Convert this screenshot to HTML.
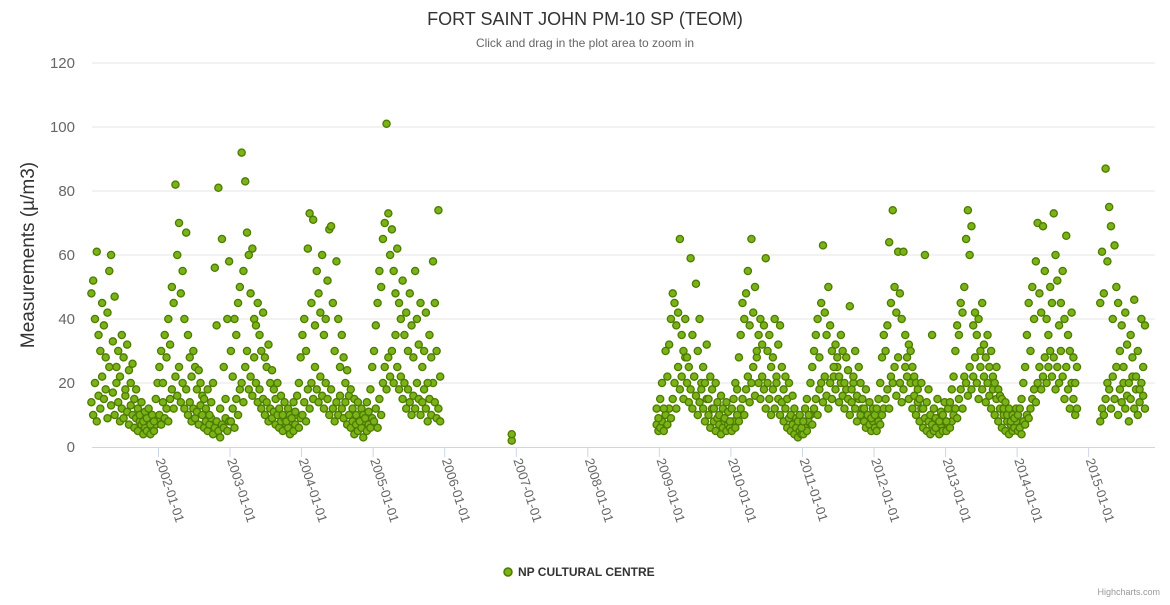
<!DOCTYPE html>
<html><head><meta charset="utf-8"><style>
body{margin:0;background:#fff;font-family:"Liberation Sans",sans-serif}
</style></head><body>
<svg id="chart" width="1170" height="600" xmlns="http://www.w3.org/2000/svg" font-family="Liberation Sans, sans-serif">
<rect width="1170" height="600" fill="#fff"/>
<text x="585" y="25" text-anchor="middle" font-size="18" fill="#333">FORT SAINT JOHN PM-10 SP (TEOM)</text>
<text x="585" y="47" text-anchor="middle" font-size="12" fill="#666">Click and drag in the plot area to zoom in</text>
<text transform="translate(34,255) rotate(-90)" text-anchor="middle" font-size="19" fill="#333">Measurements (µ/m3)</text>
<g id="grid"></g><g id="xaxis"></g><g id="pts"></g>
<g>
<circle cx="508" cy="572" r="4" fill="#7ab317" stroke="#4d7a00" stroke-width="1.5"/>
<text x="518" y="576" font-size="12" font-weight="bold" fill="#333">NP CULTURAL CENTRE</text>
</g>
<text x="1160" y="595" text-anchor="end" font-size="9" fill="#999">Highcharts.com</text>
</svg>
<script>
const yTicks=[0,20,40,60,80,100,120];
const xTickYears=[2002,2003,2004,2005,2006,2007,2008,2009,2010,2011,2012,2013,2014,2015];
const years=[2001,2002,2003,2004,2005,2006,2008,2009,2010,2011,2012,2013,2014,2015];
const N=null;
const low2001=[N,N,14,10,20,8,16,12,22,15,18,9,25,13,17,10,20,14,8,12,9,16,11,7,13,10,6,9,5,8,7,4,6,5,8,4,6,5,7,9];
const high2001=[N,N,48,52,40,61,35,30,45,38,28,42,55,60,33,47,25,30,22,35,28,18,32,24,20,26,15,18,12,10,14,8,11,9,12,7,10,8,15,20];
const low2002=[10,7,14,9,12,8,15,18,12,22,16,25,14,20,12,18,10,14,8,12,9,11,7,13,10,6,8,5,7,9,4,6,8,5,3,7,6,9,5,8];
const high2002=[25,30,20,35,28,40,32,50,45,82,60,70,48,55,40,67,35,28,22,30,25,18,24,20,16,15,12,18,10,14,20,56,38,81,12,65,25,15,40,58];
const low2003=[8,12,6,15,10,18,20,14,25,30,18,22,16,28,20,14,18,12,15,10,14,8,12,9,11,7,10,6,8,5,9,7,6,4,8,5,7,10,6,9];
const high2003=[30,22,40,35,45,50,92,55,83,67,60,48,62,40,38,45,35,30,42,28,25,32,20,24,18,15,20,12,16,10,14,8,12,10,9,14,11,16,20,28];
const low2004=[10,14,8,18,12,20,15,25,18,14,22,16,12,20,15,10,18,12,8,14,10,16,12,9,14,7,10,6,8,4,7,5,9,6,3,8,5,7,6,9];
const high2004=[35,40,30,62,73,45,71,38,55,48,42,60,35,40,52,68,69,45,30,58,40,25,35,28,20,24,16,18,12,15,10,14,8,12,10,9,14,11,18,25];
const low2005=[8,12,6,15,10,20,25,18,28,22,30,20,35,25,18,22,15,20,12,18,14,10,16,12,20,15,10,14,18,12,8,15,10,20,14,9,12,8,N,N];
const high2005=[30,38,45,55,50,65,70,101,73,60,68,55,48,62,45,40,52,35,42,30,48,38,28,55,40,32,45,25,30,42,20,35,28,58,45,30,74,22,N,N];
const low2006=[N,N,N,N,N,N,N,N,N,N,N,N,N,N,N,N,N,N,N,N,N,N,N,N,N,N,N,N,N,N,N,N,N,N,N,N,N,2,N,N];
const high2006=[N,N,N,N,N,N,N,N,N,N,N,N,N,N,N,N,N,N,N,N,N,N,N,N,N,N,N,N,N,N,N,N,N,N,N,N,N,4,N,N];
const low2008=[N,N,N,N,N,N,N,N,N,N,N,N,N,N,N,N,N,N,N,N,N,N,N,N,N,N,N,N,N,N,N,N,N,N,N,N,N,N,7,5];
const high2008=[N,N,N,N,N,N,N,N,N,N,N,N,N,N,N,N,N,N,N,N,N,N,N,N,N,N,N,N,N,N,N,N,N,N,N,N,N,N,12,9];
const low2009=[6,8,5,10,7,12,9,15,20,12,25,18,22,15,28,20,14,18,12,22,16,10,14,20,12,8,15,10,6,12,8,5,9,7,4,6,8,5,7,6];
const high2009=[15,20,12,30,22,32,40,48,45,38,42,65,35,30,40,28,25,59,35,22,51,30,40,18,25,20,32,15,22,18,12,20,14,10,16,12,9,14,11,8];
const low2010=[5,8,6,10,8,12,15,10,18,22,14,20,25,16,28,20,15,22,18,12,20,15,10,18,12,22,15,10,14,8,12,6,9,5,7,4,6,3,5,4];
const high2010=[12,15,20,18,28,35,45,40,48,55,38,65,42,50,30,35,40,32,38,59,30,35,25,28,40,20,32,38,25,18,22,15,20,10,16,12,9,8,10,6];
const low2011=[4,6,5,8,10,7,12,15,10,18,20,14,22,16,12,20,15,22,18,25,14,20,16,12,18,15,10,14,20,12,8,15,10,12,8,6,10,7,5,8];
const high2011=[8,12,15,10,20,25,30,35,40,28,45,63,42,35,50,38,30,25,32,28,22,35,30,20,28,24,44,18,22,30,16,25,20,15,12,18,10,14,9,12];
const low2012=[6,5,8,7,10,12,15,18,12,22,20,25,16,28,20,14,18,25,22,15,20,12,16,10,14,8,12,6,9,5,8,4,7,5,6,9,4,7,5,8];
const high2012=[10,12,15,20,28,35,30,38,64,45,74,50,42,61,48,40,61,35,28,32,30,25,22,20,18,15,20,12,60,14,18,10,35,12,9,15,8,11,10,14];
const low2013=[5,7,6,8,10,12,9,15,18,12,22,20,16,25,18,22,28,20,15,25,18,22,14,20,16,12,18,10,15,8,12,6,10,5,8,4,7,5,6,8];
const high2013=[8,12,14,18,22,30,38,35,45,42,50,65,74,60,69,38,42,35,40,30,45,32,28,35,25,30,22,20,25,18,16,15,12,14,10,12,8,10,9,12];
const low2014=[5,6,4,8,7,10,9,12,15,18,14,20,25,18,22,28,20,25,30,22,28,18,25,20,30,22,15,25,18,12,20,15,10,12,N,N,N,N,N,N];
const high2014=[10,12,15,20,25,35,45,30,50,40,58,70,48,42,69,55,40,35,50,45,73,60,52,38,45,55,40,66,35,30,42,28,20,25,N,N,N,N,N,N];
const low2015=[N,N,N,N,N,N,8,12,10,15,20,18,12,22,15,25,10,18,14,20,12,16,8,15,22,12,18,10,14,20,16,12,N,N,N,N,N,N,N,N];
const high2015=[N,N,N,N,N,N,45,61,48,87,58,75,69,40,63,50,45,30,38,25,42,32,20,35,28,46,22,30,18,40,25,38,N,N,N,N,N,N,N,N];
const lowSeries=[low2001,low2002,low2003,low2004,low2005,low2006,low2008,low2009,low2010,low2011,low2012,low2013,low2014,low2015];
const highSeries=[high2001,high2002,high2003,high2004,high2005,high2006,high2008,high2009,high2010,high2011,high2012,high2013,high2014,high2015];

const NS='http://www.w3.org/2000/svg';
const X0=92,X1=1155,Y0=447,Y1=63;
const xs=t=>158.5+(t-2002)*71.55;
const ys=v=>Y0-(v/120)*(Y0-Y1);
function mk(tag,attrs,parent){const e=document.createElementNS(NS,tag);for(const k in attrs)e.setAttribute(k,attrs[k]);parent.appendChild(e);return e;}
const grid=document.getElementById('grid');
yTicks.forEach(v=>{
  if(v>0){const l=mk('line',{x1:X0,x2:X1,y1:ys(v),y2:ys(v),stroke:'#e6e6e6'},grid);
  
  }
  const t=mk('text',{x:75,y:ys(v)+5,'text-anchor':'end','font-size':15,fill:'#666'},grid);
  t.textContent=v;
  
  
});
const xa=document.getElementById('xaxis');
const al=mk('line',{x1:X0,x2:X1,y1:Y0+0.5,y2:Y0+0.5,stroke:'#ccd6eb'},xa);


xTickYears.forEach(yr=>{
  const x=xs(yr);
  const tk=mk('line',{x1:x,x2:x,y1:Y0,y2:Y0+10,stroke:'#ccd6eb'},xa);
  
  
  const t=mk('text',{transform:`translate(${x-3},${Y0+13}) rotate(72)`,'font-size':13,fill:'#666'},xa);
  t.textContent=yr+'-01-01';
  
  
});
const pts=document.getElementById('pts');
function plot(arrs){
  arrs.forEach((arr,k)=>{
    arr.forEach((v,i)=>{
      if(v===null)return;
      const c=mk('circle',{cx:xs(years[k]+i/40+0.012),cy:ys(v),r:3.6,fill:'#7ab317',stroke:'#4d7a00','stroke-width':1.3},pts);
      
      
    });
  });
}
plot(lowSeries);plot(highSeries);
</script>
</body></html>
